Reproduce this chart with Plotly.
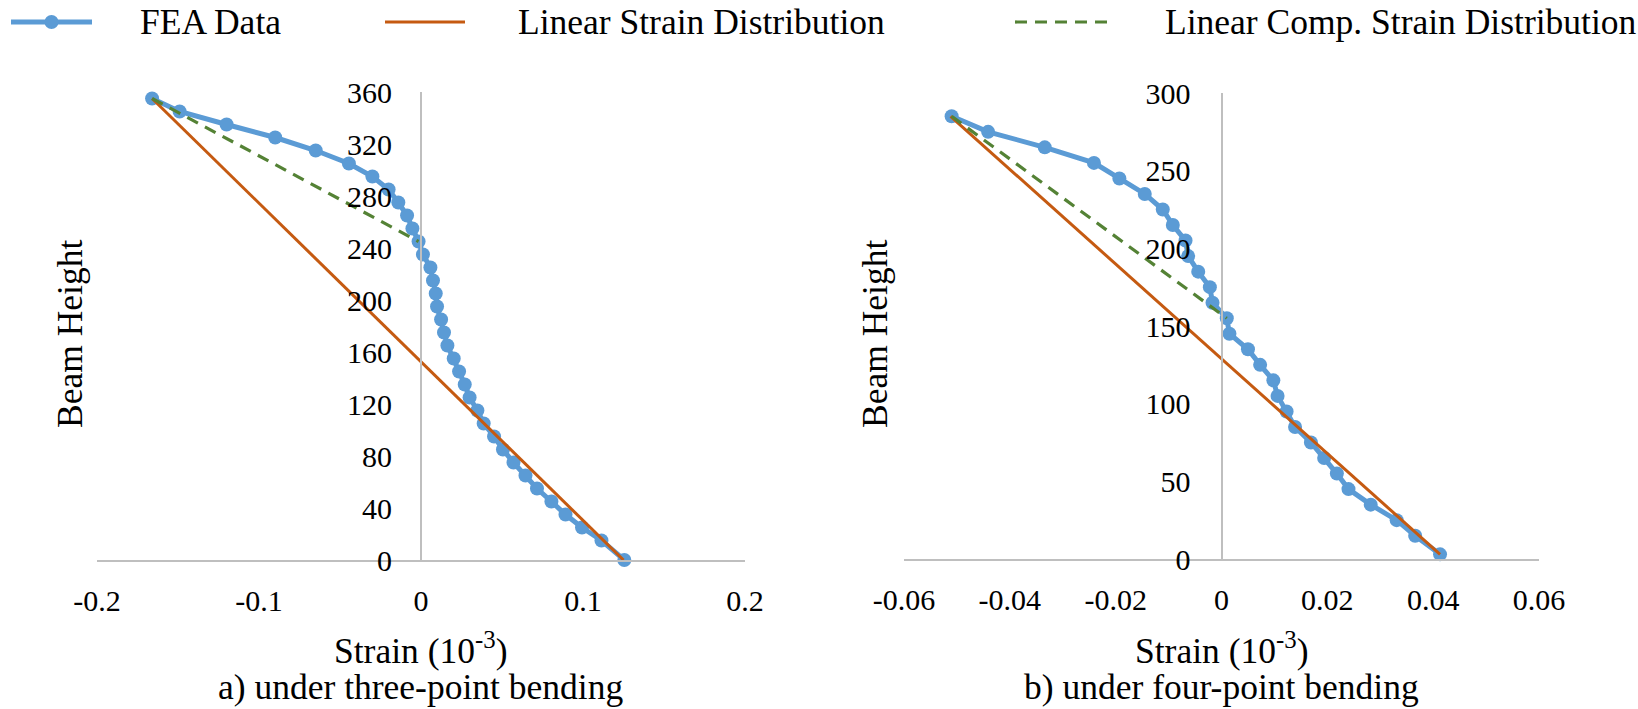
import plotly.graph_objects as go

# ---------------- data ----------------
# a) three-point bending
height_a = [355, 345, 335, 325, 315, 305, 295, 285, 275, 265, 255, 245, 235, 225,
            215, 205, 195, 185, 175, 165, 155, 145, 135, 125, 115, 105, 95, 85,
            75, 65, 55, 45, 35, 25, 15, 0]
strain_a = [-0.166, -0.149, -0.120, -0.090, -0.065, -0.0445, -0.030, -0.020, -0.014,
            -0.0086, -0.0053, -0.0015, 0.0012, 0.0058, 0.0074, 0.0091, 0.0099, 0.0124,
            0.0142, 0.0163, 0.0202, 0.0235, 0.0270, 0.0300, 0.0348, 0.0387, 0.0451,
            0.0506, 0.0571, 0.0645, 0.0716, 0.0805, 0.0892, 0.0994, 0.1114, 0.1255]
lin_a_strain = [-0.166, 0.125]
lin_a_height = [355, 0]
comp_a_strain = [-0.166, -0.0015]
comp_a_height = [355, 245]

# b) four-point bending
height_b = [285, 275, 265, 255, 245, 235, 225, 215, 205, 195, 185, 175, 165, 155,
            145, 135, 125, 115, 105, 95, 85, 75, 65, 55, 45, 35, 25, 15, 3]
strain_b = [-0.0510, -0.0441, -0.0334, -0.0241, -0.0193, -0.0145, -0.0111, -0.0092,
            -0.0068, -0.0063, -0.0044, -0.0022, -0.0017, 0.0010, 0.0015, 0.0050,
            0.0073, 0.0098, 0.0106, 0.0123, 0.0139, 0.0169, 0.0194, 0.0218, 0.0240,
            0.0282, 0.0331, 0.0366, 0.0413]
lin_b_strain = [-0.0512, 0.0413]
lin_b_height = [285, 3]
comp_b_strain = [-0.0510, 0.0010]
comp_b_height = [285, 155]

xticks_a = [-0.2, -0.1, 0, 0.1, 0.2]
xticks_b = [-0.06, -0.04, -0.02, 0, 0.02, 0.04, 0.06]
yticks_a = [0, 40, 80, 120, 160, 200, 240, 280, 320, 360]
yticks_b = [0, 50, 100, 150, 200, 250, 300]

series_names = ["FEA Data", "Linear Strain Distribution", "Linear Comp. Strain Distribution"]
subtitles = ["a) under three-point bending", "b) under four-point bending"]

# ---------------- style ----------------
W, H = 1638, 709
BLUE = "#5B9BD5"
ORANGE = "#C55A11"
GREEN = "#548235"
GRID = "#BFBFBF"
FONT = "Liberation Serif"
TICK_SIZE = 30
TEXT_SIZE = 35.5
DASH = "12px,8px"


def px(x):
    return x / W


def py(y):
    return 1 - y / H


# plot areas in pixels
xa_dom = [px(97), px(745)]
ya_dom = [py(560), py(92)]
xb_dom = [px(904), px(1539)]
yb_dom = [py(559), py(93)]

fig = go.Figure()

for (s, h, lin_s, lin_h, c_s, c_h, xa, ya) in [
    (strain_a, height_a, lin_a_strain, lin_a_height, comp_a_strain, comp_a_height, "x", "y"),
    (strain_b, height_b, lin_b_strain, lin_b_height, comp_b_strain, comp_b_height, "x2", "y2"),
]:
    fig.add_trace(go.Scatter(x=s, y=h, mode="lines+markers", name=series_names[0],
                             line=dict(color=BLUE, width=5),
                             marker=dict(color=BLUE, size=14),
                             xaxis=xa, yaxis=ya, showlegend=False, cliponaxis=False))
    fig.add_trace(go.Scatter(x=lin_s, y=lin_h, mode="lines", name=series_names[1],
                             line=dict(color=ORANGE, width=3),
                             xaxis=xa, yaxis=ya, showlegend=False, cliponaxis=False))
    fig.add_trace(go.Scatter(x=c_s, y=c_h, mode="lines", name=series_names[2],
                             line=dict(color=GREEN, width=3.2, dash=DASH),
                             xaxis=xa, yaxis=ya, showlegend=False, cliponaxis=False))

tickfont = dict(family=FONT, size=TICK_SIZE, color="#000000")

common = dict(showgrid=False, zeroline=False, showline=True, linecolor=GRID, linewidth=2,
              ticks="", tickfont=tickfont, automargin=False)

fig.update_layout(
    width=W, height=H,
    margin=dict(l=0, r=0, t=0, b=0, autoexpand=False),
    paper_bgcolor="white", plot_bgcolor="white",
    font=dict(family=FONT, color="#000000"),
    xaxis=dict(domain=xa_dom, range=[-0.2, 0.2], tickvals=xticks_a,
               ticktext=[f"{v:g}" for v in xticks_a],
               ticklabelstandoff=13, anchor="y", **common),
    yaxis=dict(domain=ya_dom, range=[0, 360], tickvals=yticks_a,
               ticktext=[str(v) for v in yticks_a],
               ticklabelstandoff=22,
               anchor="free", position=(xa_dom[0] + xa_dom[1]) / 2, **common),
    xaxis2=dict(domain=xb_dom, range=[-0.06, 0.06], tickvals=xticks_b,
                ticktext=[f"{v:g}" for v in xticks_b],
                ticklabelstandoff=13, anchor="y2", **common),
    yaxis2=dict(domain=yb_dom, range=[0, 300], tickvals=yticks_b,
                ticktext=[str(v) for v in yticks_b],
                ticklabelstandoff=24,
                anchor="free", position=(xb_dom[0] + xb_dom[1]) / 2, **common),
    showlegend=False,
    hovermode=False,
)

textfont = dict(family=FONT, size=TEXT_SIZE, color="#000000")
annotations = []
shapes = []

# axis titles and subtitles
for cx, ytx in [((xa_dom[0] + xa_dom[1]) / 2, px(70)), ((xb_dom[0] + xb_dom[1]) / 2, px(875))]:
    annotations.append(dict(x=cx, y=py(648), xref="paper", yref="paper",
                            text="Strain (10<sup>-3</sup>)", showarrow=False,
                            xanchor="center", yanchor="middle", font=textfont))
    annotations.append(dict(x=ytx, y=py(334), xref="paper", yref="paper",
                            text="Beam Height", textangle=-90, showarrow=False,
                            xanchor="center", yanchor="middle", font=textfont))
for cx, t in zip([(xa_dom[0] + xa_dom[1]) / 2, (xb_dom[0] + xb_dom[1]) / 2], subtitles):
    annotations.append(dict(x=cx, y=py(687), xref="paper", yref="paper", text=t,
                            showarrow=False, xanchor="center", yanchor="middle", font=textfont))

# legend (drawn manually to match layout)
LEG_Y = py(22)
legend_items = [
    (series_names[0], 11, 92, 138, dict(color=BLUE, width=5), True),
    (series_names[1], 385, 465, 516, dict(color=ORANGE, width=3), False),
    (series_names[2], 1015, 1107, 1163, dict(color=GREEN, width=3.2, dash=DASH), False),
]
for name, x0, x1, tx, ln, mk in legend_items:
    shapes.append(dict(type="line", xref="paper", yref="paper", x0=px(x0), x1=px(x1),
                       y0=LEG_Y, y1=LEG_Y, line=ln))
    if mk:
        cxp = (x0 + x1) / 2
        shapes.append(dict(type="circle", xref="paper", yref="paper",
                           x0=px(cxp - 7), x1=px(cxp + 7), y0=py(29), y1=py(15),
                           fillcolor=BLUE, line=dict(color=BLUE, width=0)))
    annotations.append(dict(x=px(tx), y=LEG_Y, xref="paper", yref="paper", text=name,
                            showarrow=False, xanchor="left", yanchor="middle", font=textfont))

fig.update_layout(annotations=annotations, shapes=shapes)

fig.write_html("out.html",
               config={"displayModeBar": False, "staticPlot": True},
               post_script="document.body.style.margin='0';document.body.style.overflow='hidden';")
